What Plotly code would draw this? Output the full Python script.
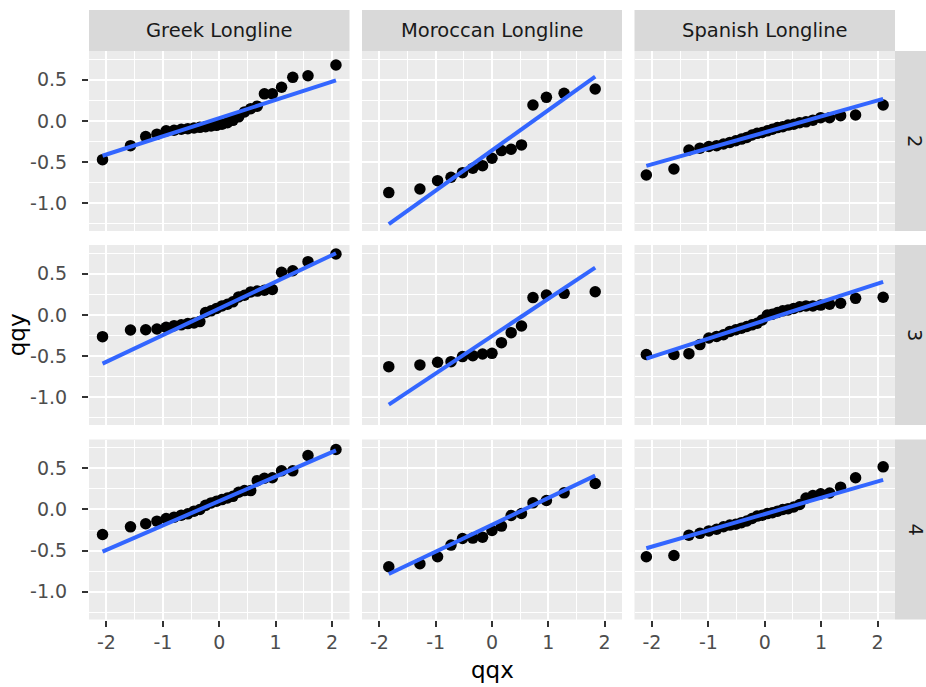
import plotly.graph_objects as go

# Facet labels
fleets = ["Greek Longline", "Moroccan Longline", "Spanish Longline"]
groups = ["2", "3", "4"]

# Theoretical normal quantiles (qqx) for each fleet's sample size
qqx_greek = [-2.070, -1.574, -1.304, -1.105, -0.942, -0.801, -0.674, -0.558, -0.448,
             -0.344, -0.243, -0.145, -0.048, 0.048, 0.145, 0.243, 0.344, 0.448,
             0.558, 0.674, 0.801, 0.942, 1.105, 1.304, 1.574, 2.070]
qqx_moroccan = [-1.834, -1.281, -0.967, -0.728, -0.524, -0.341, -0.168, 0.0,
                0.168, 0.341, 0.524, 0.728, 0.967, 1.281, 1.834]
qqx_spanish = [-2.100, -1.611, -1.345, -1.150, -0.992, -0.854, -0.732, -0.619, -0.514,
               -0.414, -0.319, -0.226, -0.135, -0.045, 0.045, 0.135, 0.226, 0.319,
               0.414, 0.514, 0.619, 0.732, 0.854, 0.992, 1.150, 1.345, 1.611, 2.100]

# Sorted sample values (qqy), one list per fleet and group
qqy_greek_2 = [-0.47, -0.30, -0.19, -0.16, -0.12, -0.113, -0.10, -0.093, -0.085, -0.077,
               -0.069, -0.061, -0.053, -0.04, -0.02, 0.008, 0.05, 0.11, 0.15, 0.18,
               0.33, 0.33, 0.41, 0.53, 0.55, 0.68]
qqy_greek_3 = [-0.263, -0.182, -0.18, -0.17, -0.15, -0.13, -0.12, -0.105, -0.097, -0.08,
               0.03, 0.05, 0.08, 0.11, 0.13, 0.16, 0.22, 0.24, 0.28, 0.29,
               0.30, 0.31, 0.518, 0.538, 0.648, 0.741]
qqy_greek_4 = [-0.304, -0.211, -0.174, -0.142, -0.109, -0.093, -0.069, -0.053, -0.02, 0.0,
               0.05, 0.08, 0.10, 0.12, 0.14, 0.16, 0.21, 0.23, 0.23, 0.35,
               0.38, 0.385, 0.47, 0.47, 0.656, 0.729]
qqy_moroccan_2 = [-0.870, -0.826, -0.725, -0.684, -0.628, -0.575, -0.543, -0.453,
                  -0.360, -0.344, -0.291, 0.194, 0.287, 0.336, 0.389]
qqy_moroccan_3 = [-0.628, -0.607, -0.575, -0.567, -0.506, -0.494, -0.474, -0.466,
                  -0.336, -0.215, -0.134, 0.211, 0.243, 0.263, 0.283]
qqy_moroccan_4 = [-0.696, -0.660, -0.575, -0.433, -0.352, -0.348, -0.336, -0.255,
                  -0.202, -0.073, -0.049, 0.081, 0.109, 0.202, 0.316]
qqy_spanish_2 = [-0.656, -0.583, -0.352, -0.33, -0.31, -0.30, -0.28, -0.26, -0.24, -0.22,
                 -0.20, -0.17, -0.15, -0.14, -0.12, -0.10, -0.08, -0.07, -0.05, -0.04,
                 -0.02, -0.01, 0.01, 0.04, 0.04, 0.065, 0.073, 0.194]
qqy_spanish_3 = [-0.48, -0.48, -0.47, -0.36, -0.28, -0.26, -0.24, -0.20, -0.18, -0.16,
                 -0.14, -0.12, -0.10, -0.06, 0.0, 0.01, 0.03, 0.05, 0.06, 0.08,
                 0.10, 0.11, 0.11, 0.12, 0.13, 0.142, 0.202, 0.215]
qqy_spanish_4 = [-0.575, -0.559, -0.312, -0.29, -0.26, -0.24, -0.21, -0.19, -0.18, -0.16,
                 -0.14, -0.11, -0.08, -0.07, -0.05, -0.04, -0.02, 0.0, 0.01, 0.03,
                 0.06, 0.14, 0.17, 0.19, 0.20, 0.271, 0.385, 0.518]

# Reference line (intercept, slope) per fleet, ordered by group 2, 3, 4
line_intercept_greek = [0.035, 0.079, 0.103]
line_slope_greek = [0.221, 0.324, 0.297]
line_intercept_moroccan = [-0.357, -0.257, -0.186]
line_slope_moroccan = [0.489, 0.454, 0.326]
line_intercept_spanish = [-0.139, -0.065, -0.055]
line_slope_spanish = [0.194, 0.222, 0.198]

# Axis breaks
x_ticks = [-2, -1, 0, 1, 2]
x_ticktext = ["-2", "-1", "0", "1", "2"]
y_ticks = [-1.0, -0.5, 0.0, 0.5]
y_ticktext = ["-1.0", "-0.5", "0.0", "0.5"]

qqx_by_fleet = [qqx_greek, qqx_moroccan, qqx_spanish]
qqy_by_panel = [
    [qqy_greek_2, qqy_moroccan_2, qqy_spanish_2],
    [qqy_greek_3, qqy_moroccan_3, qqy_spanish_3],
    [qqy_greek_4, qqy_moroccan_4, qqy_spanish_4],
]
intercepts = [line_intercept_greek, line_intercept_moroccan, line_intercept_spanish]
slopes = [line_slope_greek, line_slope_moroccan, line_slope_spanish]

W, H = 926, 687
col_px = [(89, 349.5), (362, 622), (634.5, 895)]
row_px = [(51, 231), (245, 425), (439.5, 619.5)]
strip_top = (10, 51)
strip_right = (895, 937)

X_RANGE = [-2.31, 2.31]
Y_RANGE = [-1.337, 0.8505]

PANEL_BG = "#EBEBEB"
STRIP_BG = "#D9D9D9"
FONT = "DejaVu Sans, Verdana, sans-serif"
TICK_SIZE = 19
STRIP_SIZE = 19.5
TITLE_SIZE = 23


def px_x(p):
    return p / W


def px_y(p):
    return 1 - p / H


fig = go.Figure()
layout = dict(
    width=W, height=H, autosize=False,
    margin=dict(l=0, r=0, t=0, b=0),
    paper_bgcolor="white", plot_bgcolor=PANEL_BG,
    showlegend=False,
    font=dict(family=FONT),
)

shapes = []
annotations = []

for r in range(3):
    for c in range(3):
        k = r * 3 + c + 1
        xs = qqx_by_fleet[c]
        ys = qqy_by_panel[r][c]
        a = intercepts[c][r]
        b = slopes[c][r]
        xa = "x" if k == 1 else f"x{k}"
        ya = "y" if k == 1 else f"y{k}"
        fig.add_trace(go.Scatter(
            x=xs, y=ys, mode="markers", xaxis=xa, yaxis=ya,
            marker=dict(color="black", size=11.5, line=dict(width=0)),
            hoverinfo="x+y",
        ))
        x_end = [min(xs), max(xs)]
        fig.add_trace(go.Scatter(
            x=x_end, y=[a + b * v for v in x_end], mode="lines",
            xaxis=xa, yaxis=ya,
            line=dict(color="#3366FF", width=4),
            hoverinfo="skip",
        ))

        bottom = r == 2
        left = c == 0
        x0, x1 = col_px[c]
        y0, y1 = row_px[r]
        layout[f"xaxis{k if k > 1 else ''}"] = dict(
            domain=[px_x(x0), px_x(x1)], anchor=ya, range=X_RANGE,
            tickvals=x_ticks, ticktext=x_ticktext,
            showticklabels=bottom, ticks="outside" if bottom else "",
            ticklen=6, tickwidth=1.5, tickcolor="#333333",
            tickfont=dict(size=TICK_SIZE, color="#4D4D4D", family=FONT),
            ticklabelstandoff=0,
            showgrid=True, gridcolor="white", gridwidth=2,
            minor=dict(tickvals=[-1.5, -0.5, 0.5, 1.5], showgrid=True,
                       gridcolor="white", gridwidth=1, ticks=""),
            zeroline=False, showline=False, fixedrange=True,
        )
        layout[f"yaxis{k if k > 1 else ''}"] = dict(
            domain=[px_y(y1), px_y(y0)], anchor=xa, range=Y_RANGE,
            tickvals=y_ticks, ticktext=y_ticktext,
            showticklabels=left, ticks="outside" if left else "",
            ticklen=6, tickwidth=1.5, tickcolor="#333333",
            tickfont=dict(size=TICK_SIZE, color="#4D4D4D", family=FONT),
            ticklabelstandoff=11,
            showgrid=True, gridcolor="white", gridwidth=2,
            minor=dict(tickvals=[-1.25, -0.75, -0.25, 0.25, 0.75], showgrid=True,
                       gridcolor="white", gridwidth=1, ticks=""),
            zeroline=False, showline=False, fixedrange=True,
        )

# Column strips (fleet names)
for c, name in enumerate(fleets):
    x0, x1 = col_px[c]
    shapes.append(dict(type="rect", xref="paper", yref="paper",
                       x0=px_x(x0), x1=px_x(x1),
                       y0=px_y(strip_top[1]), y1=px_y(strip_top[0]),
                       fillcolor=STRIP_BG, line=dict(width=0), layer="below"))
    annotations.append(dict(text=name, xref="paper", yref="paper",
                            x=px_x((x0 + x1) / 2), y=px_y(sum(strip_top) / 2),
                            showarrow=False, xanchor="center", yanchor="middle",
                            font=dict(size=STRIP_SIZE, color="#1A1A1A", family=FONT)))

# Row strips (group labels)
for r, g in enumerate(groups):
    y0, y1 = row_px[r]
    shapes.append(dict(type="rect", xref="paper", yref="paper",
                       x0=px_x(strip_right[0]), x1=px_x(strip_right[1]),
                       y0=px_y(y1), y1=px_y(y0),
                       fillcolor=STRIP_BG, line=dict(width=0), layer="below"))
    annotations.append(dict(text=g, xref="paper", yref="paper",
                            x=px_x(915), y=px_y((y0 + y1) / 2), textangle=90,
                            showarrow=False, xanchor="center", yanchor="middle",
                            font=dict(size=STRIP_SIZE, color="#1A1A1A", family=FONT)))

# Axis titles
annotations.append(dict(text="qqx", xref="paper", yref="paper",
                        x=px_x((col_px[0][0] + col_px[2][1]) / 2), y=px_y(670),
                        showarrow=False, xanchor="center", yanchor="middle",
                        font=dict(size=TITLE_SIZE, color="black", family=FONT)))
annotations.append(dict(text="qqy", xref="paper", yref="paper",
                        x=px_x(17), y=px_y((row_px[0][0] + row_px[2][1]) / 2),
                        textangle=-90, showarrow=False,
                        xanchor="center", yanchor="middle",
                        font=dict(size=TITLE_SIZE, color="black", family=FONT)))

layout["shapes"] = shapes
layout["annotations"] = annotations
fig.update_layout(**layout)

fig.write_html("out.html", config={"displayModeBar": False})
